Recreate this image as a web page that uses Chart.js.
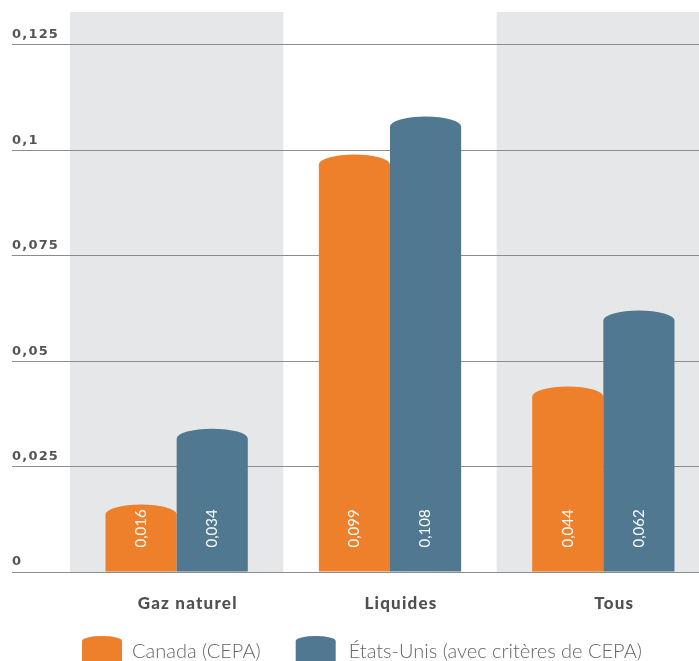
<!DOCTYPE html>
<html><head><meta charset="utf-8">
<script src="https://cdn.jsdelivr.net/npm/chart.js@4.4.1/dist/chart.umd.min.js"></script>
<style>html,body{margin:0;padding:0;overflow:hidden;background:#fff}canvas{display:block}</style>
</head><body>
<canvas id="c" width="710" height="661"></canvas>
<script>
const categories = ['Gaz naturel', 'Liquides', 'Tous'];
const seriesNames = ['Canada (CEPA)', 'États-Unis (avec critères de CEPA)'];
const canadaValues = [0.016, 0.099, 0.044];
const usValues = [0.034, 0.108, 0.062];
const tickValues = [0, 0.025, 0.05, 0.075, 0.1, 0.125];
const tickLabels = ['0', '0,025', '0,05', '0,075', '0,1', '0,125'];
const seriesColors = ['#ee7f2b', '#507891'];

const capRy = 10;
function capPath(ctx, x, top, rx, ry, base) {
  const cy = top + ry;
  ctx.beginPath();
  ctx.moveTo(x - rx, base);
  ctx.lineTo(x - rx, cy);
  ctx.ellipse(x, cy, rx, ry, 0, Math.PI, 2 * Math.PI);
  ctx.lineTo(x + rx, base);
  ctx.closePath();
}

const custom = {
  id: 'custom',
  beforeDraw(chart) {
    const { ctx, chartArea: a, scales: { x } } = chart;
    const w = (a.right - a.left) / categories.length;
    ctx.save();
    ctx.fillStyle = '#e6e7e9';
    categories.forEach((c, i) => {
      if (i % 2 === 0) {
        const cx = x.getPixelForValue(i);
        ctx.fillRect(cx - w / 2, a.top, w, a.bottom - a.top);
      }
    });
    ctx.restore();
    ctx.letterSpacing = '1.2px';
  },
  beforeDatasetsDraw(chart) { chart.ctx.letterSpacing = '0px'; },
  beforeDatasetDraw() { return false; },
  afterDatasetsDraw(chart) {
    const ctx = chart.ctx;
    chart.data.datasets.forEach((ds, di) => {
      const meta = chart.getDatasetMeta(di);
      meta.data.forEach((el, i) => {
        const { x, y, base, width } = el.getProps(['x', 'y', 'base', 'width'], true);
        ctx.save();
        ctx.fillStyle = ds.backgroundColor;
        capPath(ctx, x, y, width / 2, capRy, base);
        ctx.fill();
        ctx.translate(x, base - 24);
        ctx.rotate(-Math.PI / 2);
        ctx.fillStyle = '#ffffff';
        ctx.font = '400 15px Lato';
        ctx.textAlign = 'left';
        ctx.textBaseline = 'middle';
        ctx.fillText(String(ds.data[i]).replace('.', ','), 0, 0);
        ctx.restore();
      });
    });
  },
  afterDraw(chart) {
    const ctx = chart.ctx;
    ctx.save();
    ctx.letterSpacing = '0px';
    ctx.font = '300 20px Lato';
    ctx.textAlign = 'left';
    ctx.textBaseline = 'alphabetic';
    let lx = 82;
    chart.data.datasets.forEach((ds, i) => {
      ctx.fillStyle = ds.backgroundColor;
      capPath(ctx, lx + 20, 636, 20, 5, 670);
      ctx.fill();
      ctx.fillStyle = '#666666';
      const tx = lx + 40 + (i === 0 ? 10 : 13);
      ctx.fillText(ds.label, tx, 658);
      lx = tx + ctx.measureText(ds.label).width + 35;
    });
    ctx.restore();
  }
};

new Chart(document.getElementById('c'), {
  type: 'bar',
  data: {
    labels: categories,
    datasets: [
      { label: seriesNames[0], data: canadaValues, backgroundColor: seriesColors[0] },
      { label: seriesNames[1], data: usValues, backgroundColor: seriesColors[1] }
    ]
  },
  options: {
    responsive: false,
    animation: false,
    devicePixelRatio: 1,
    categoryPercentage: 0.667,
    barPercentage: 1,
    layout: { padding: { top: 12, left: 12, right: 0, bottom: 0 } },
    plugins: { legend: { display: false }, tooltip: { enabled: false } },
    scales: {
      x: {
        grid: { display: false, drawTicks: false },
        border: { display: false },
        afterFit(s) { s.height = 89; },
        ticks: { font: { family: 'Lato', weight: '900', size: 17 }, color: '#505050', padding: 21, labelOffset: 11 }
      },
      y: {
        min: 0,
        max: 0.1328,
        afterBuildTicks(s) { s.ticks = tickValues.map(v => ({ value: v })); },
        afterFit(s) { s.width = 58; },
        border: { display: false },
        grid: { color: '#8c8c8c', lineWidth: 1, tickLength: 58, drawTicks: true },
        ticks: {
          callback: (v) => tickLabels[tickValues.indexOf(v)],
          crossAlign: 'far',
          labelOffset: -10,
          padding: 0,
          font: { family: 'DejaVu Sans', weight: 'bold', size: 13 },
          color: '#555555'
        }
      }
    }
  },
  plugins: [custom]
});
</script>
</body></html>
